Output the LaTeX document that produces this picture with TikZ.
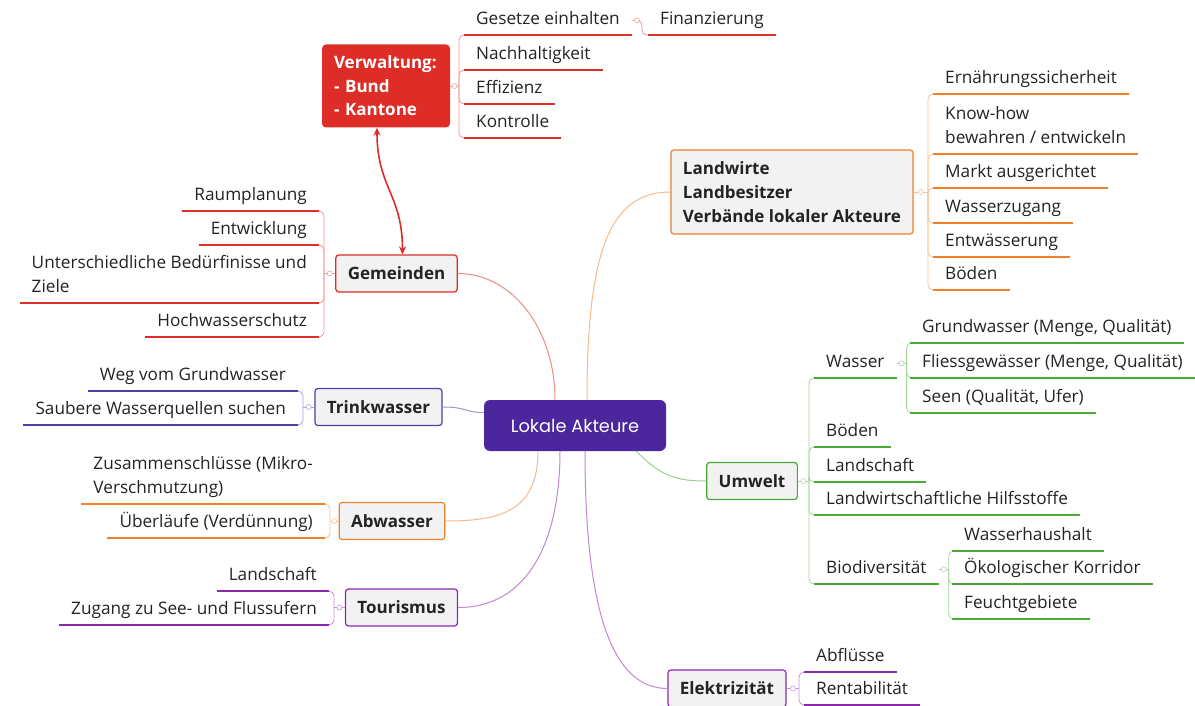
\documentclass[tikz,border=0pt]{standalone}
\usepackage{fontspec}
\setmainfont{Open Sans}
\newfontfamily\hubfont{Poppins}
\usetikzlibrary{arrows.meta, positioning, calc}
\definecolor{myred}{RGB}{222,45,38}
\definecolor{myorange}{RGB}{240,128,40}
\definecolor{mygreen}{RGB}{72,170,52}
\definecolor{myblue}{RGB}{82,60,170}
\definecolor{mypurple}{RGB}{140,40,170}
\definecolor{myhub}{RGB}{76,38,156}
\definecolor{mygray}{RGB}{242,242,242}
\definecolor{mytext}{RGB}{35,35,35}
\tikzset{
  hub/.style={rectangle, fill=myhub, text=white, rounded corners=6pt,
    minimum width=182pt, minimum height=51pt,
    font=\hubfont\fontsize{17.8}{20}\selectfont},
  topic/.style={rectangle, draw=#1, fill=mygray, text=mytext,
    inner xsep=12pt, minimum height=37pt, rounded corners=3pt, line width=1.2pt,
    font=\bfseries\fontsize{17}{24}\selectfont},
  admin/.style={rectangle, fill=myred, text=white, align=left,
    text width=104pt, inner xsep=12pt, minimum height=83pt, rounded corners=4pt,
    font=\bfseries\fontsize{17}{23.5}\selectfont},
  leafbase/.style={inner xsep=12pt, inner ysep=6pt, text=mytext,
    font=\fontsize{17.2}{24}\selectfont},
  leaf/.style={leafbase, text height=13pt, text depth=4pt},
  leafml/.style={leafbase, align=left},
  uline/.style={draw=#1, line width=1.6pt},
  twig/.style={draw=#1!50, line width=0.8pt, rounded corners=5pt},
  link/.style={draw=#1!55, line width=1pt},
  knob/.style={draw=#1!45, fill=white, line width=0.6pt},
  admlink/.style={{Stealth[length=8pt,width=7pt]}-{Stealth[length=8pt,width=7pt]},
    draw=myred, line width=1.6pt}
}

\begin{document}
\begin{tikzpicture}[x=1pt, y=-1pt]
  \useasboundingbox (0,0) rectangle (1195,706);

  % central node and main topics
  \node[hub] (hub) at (575,425.5) {Lokale Akteure};
  \node[admin] (vw) at (386,86) {Verwaltung:\\- Bund\\- Kantone};
  \node[topic=myred] (gem) at (396.5,273.5) {Gemeinden};
  \node[topic=myblue] (tw) at (378.5,407) {Trinkwasser};
  \node[topic=myorange] (aw) at (392,521) {Abwasser};
  \node[topic=mypurple] (tr) at (401.5,607.5) {Tourismus};
  \node[topic=myorange, align=left, minimum height=84pt] (lw) at (792,192)
    {Landwirte\\Landbesitzer\\Verbände lokaler Akteure};
  \node[topic=mygreen] (uw) at (752,481) {Umwelt};
  \node[topic=mypurple] (el) at (727,688.5) {Elektrizität};

  % links to the centre
  \draw[link=myred] (gem.east) .. controls +(55,0) and +(0,-70) .. ($(hub.north)+(-20,0)$);
  \draw[link=myorange] ($(hub.north)+(12,0)$) .. controls +(0,-150) and +(-60,0) .. (lw.west);
  \draw[link=myblue] (tw.east) .. controls +(25,0) and +(-20,0) .. ($(hub.west)+(0,-13)$);
  \draw[link=myorange] (aw.east) .. controls +(55,0) and +(0,60) .. ($(hub.south)+(-37,0)$);
  \draw[link=mypurple] (tr.east) .. controls +(70,0) and +(0,90) .. ($(hub.south)+(-15,0)$);
  \draw[link=mypurple] ($(hub.south)+(10,0)$) .. controls +(0,160) and +(-55,0) .. (el.west);
  \draw[link=mygreen] ($(hub.south east)+(-30,0)$) .. controls +(25,25) and +(-30,0) .. (uw.west);
  \draw[admlink] ($(vw.south)+(-9,0)$) .. controls +(0,60) and +(0,-60) .. ($(gem.north)+(6,0)$);

  % branch points
  \coordinate (vwk) at (459,86);
  \coordinate (gemk) at (324,273.5);
  \coordinate (twk) at (303,407);
  \coordinate (awk) at (330,521);
  \coordinate (trk) at (334,607.5);
  \coordinate (lwk) at (928,192);
  \coordinate (uwk) at (809,481);
  \coordinate (elk) at (799,688.5);

  % Verwaltung
  \node[leaf, anchor=south west] (ges) at (464,35) {Gesetze einhalten};
  \node[leaf, anchor=south west] (fin) at (648,35) {Finanzierung};
  \node[leaf, anchor=south west] (nach) at (464,70) {Nachhaltigkeit};
  \node[leaf, anchor=south west] (eff) at (464,104) {Effizienz};
  \node[leaf, anchor=south west] (kon) at (464,138) {Kontrolle};
  \coordinate (gesk) at ($(ges.east)+(10,0)$);

  % Gemeinden
  \node[leaf, anchor=south east] (raum) at (319,211) {Raumplanung};
  \node[leaf, anchor=south east] (entwg) at (319,245) {Entwicklung};
  \node[leafml, anchor=south east] (bed) at (319,303) {Unterschiedliche Bedürfinisse und\\Ziele\vphantom{g}};
  \node[leaf, anchor=south east] (hoch) at (319,337) {Hochwasserschutz};

  % Trinkwasser
  \node[leaf, anchor=south east] (weg) at (298,391) {Weg vom Grundwasser};
  \node[leaf, anchor=south east] (saub) at (298,425) {Saubere Wasserquellen suchen};

  % Abwasser
  \node[leafml, anchor=south east] (zus) at (325,504) {Zusammenschlüsse (Mikro-\\Verschmutzung)};
  \node[leaf, anchor=south east] (ueb) at (325,538) {Überläufe (Verdünnung)};

  % Tourismus
  \node[leaf, anchor=south east] (lsch) at (329,591) {Landschaft};
  \node[leaf, anchor=south east] (zug) at (329,625) {Zugang zu See- und Flussufern};

  % Landwirte
  \node[leaf, anchor=south west] (ern) at (933,94) {Ernährungssicherheit};
  \node[leafml, anchor=south west] (know) at (933,154) {Know-how\\bewahren / entwickeln\vphantom{g}};
  \node[leaf, anchor=south west] (markt) at (933,188) {Markt ausgerichtet};
  \node[leaf, anchor=south west] (wzug) at (933,223) {Wasserzugang};
  \node[leaf, anchor=south west] (entw) at (933,257) {Entwässerung};
  \node[leaf, anchor=south west] (boden) at (933,290) {Böden};

  % Umwelt
  \node[leaf, anchor=south west] (wass) at (814,378) {Wasser};
  \node[leaf, anchor=south west] (boe) at (814,447) {Böden};
  \node[leaf, anchor=south west] (lnd) at (814,482) {Landschaft};
  \node[leaf, anchor=south west] (hilf) at (814,515) {Landwirtschaftliche Hilfsstoffe};
  \node[leaf, anchor=south west] (bio) at (814,584) {Biodiversität};
  \coordinate (wassk) at ($(wass.east)+(10,0)$);
  \coordinate (biok) at ($(bio.east)+(10,0)$);
  \node[leaf, anchor=south west] (grund) at (910,343) {Grundwasser (Menge, Qualität)};
  \node[leaf, anchor=south west] (fliess) at (910,378) {Fliessgewässer (Menge, Qualität)};
  \node[leaf, anchor=south west] (seen) at (910,413) {Seen (Qualität, Ufer)};
  \node[leaf, anchor=south west] (whh) at (952,551) {Wasserhaushalt};
  \node[leaf, anchor=south west] (oeko) at (952,584) {Ökologischer Korridor};
  \node[leaf, anchor=south west] (feu) at (952,619) {Feuchtgebiete};

  % Elektrizität
  \node[leaf, anchor=south west] (abfl) at (804,672) {Abflüsse};
  \node[leaf, anchor=south west] (rent) at (804,705) {Rentabilität};

  % twigs
  \draw[twig=myred] (vw.east) -- (vwk);
  \foreach \n in {ges,nach,eff,kon}
    \draw[twig=myred] (vwk) |- (\n.south west);
  \draw[twig=myred] (ges.east) -- (gesk) |- (fin.south west);
  \draw[twig=myred] (gem.west) -- (gemk);
  \foreach \n in {raum,entwg,bed,hoch}
    \draw[twig=myred] (gemk) |- (\n.south east);
  \draw[twig=myblue] (tw.west) -- (twk);
  \foreach \n in {weg,saub}
    \draw[twig=myblue] (twk) |- (\n.south east);
  \draw[twig=myorange] (aw.west) -- (awk);
  \foreach \n in {zus,ueb}
    \draw[twig=myorange] (awk) |- (\n.south east);
  \draw[twig=mypurple] (tr.west) -- (trk);
  \foreach \n in {lsch,zug}
    \draw[twig=mypurple] (trk) |- (\n.south east);
  \draw[twig=myorange] (lw.east) -- (lwk);
  \foreach \n in {ern,know,markt,wzug,entw,boden}
    \draw[twig=myorange] (lwk) |- (\n.south west);
  \draw[twig=mygreen] (uw.east) -- (uwk);
  \foreach \n in {wass,boe,lnd,hilf,bio}
    \draw[twig=mygreen] (uwk) |- (\n.south west);
  \draw[twig=mygreen] (wass.east) -- (wassk);
  \foreach \n in {grund,fliess,seen}
    \draw[twig=mygreen] (wassk) |- (\n.south west);
  \draw[twig=mygreen] (bio.east) -- (biok);
  \foreach \n in {whh,oeko,feu}
    \draw[twig=mygreen] (biok) |- (\n.south west);
  \draw[twig=mypurple] (el.east) -- (elk);
  \foreach \n in {abfl,rent}
    \draw[twig=mypurple] (elk) |- (\n.south west);

  % underlines
  \foreach \n/\c in {ges/myred, fin/myred, nach/myred, eff/myred, kon/myred,
      raum/myred, entwg/myred, bed/myred, hoch/myred, weg/myblue, saub/myblue,
      zus/myorange, ueb/myorange, lsch/mypurple, zug/mypurple,
      ern/myorange, know/myorange, markt/myorange, wzug/myorange, entw/myorange, boden/myorange,
      wass/mygreen, boe/mygreen, lnd/mygreen, hilf/mygreen, bio/mygreen,
      grund/mygreen, fliess/mygreen, seen/mygreen, whh/mygreen, oeko/mygreen, feu/mygreen,
      abfl/mypurple, rent/mypurple}
    \draw[uline=\c] (\n.south west) -- (\n.south east);

  % knobs
  \foreach \a/\b/\c in {vw.east/vwk/myred, gem.west/gemk/myred, tw.west/twk/myblue,
      aw.west/awk/myorange, tr.west/trk/mypurple, lw.east/lwk/myorange,
      uw.east/uwk/mygreen, el.east/elk/mypurple, ges.east/gesk/myred,
      wass.east/wassk/mygreen, bio.east/biok/mygreen}
    \draw[knob=\c] ($(\a)!0.5!(\b)$) circle (2.5pt);
\end{tikzpicture}
\end{document}
